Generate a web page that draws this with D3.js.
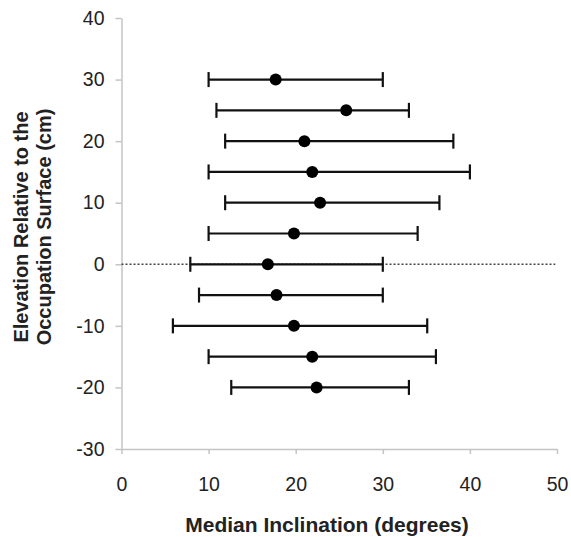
<!DOCTYPE html>
<html>
<head>
<meta charset="utf-8">
<script src="https://cdn.jsdelivr.net/npm/d3@7"></script>
<style>
  html, body { margin: 0; padding: 0; background: #fff; }
  svg { display: block; }
  text { font-family: "Liberation Sans", Arial, sans-serif; }
</style>
</head>
<body>
<svg id="chart" width="571" height="537"></svg>
<script>
// Elevation relative to the occupation surface (cm)
const elevations = [30, 25, 20, 15, 10, 5, 0, -5, -10, -15, -20];
// Median inclination (degrees)
const medians    = [17.7, 25.8, 21.0, 21.9, 22.8, 19.8, 16.8, 17.8, 19.8, 21.9, 22.4];
// Lower / upper extents of the error bars (degrees)
const lowers     = [10.0, 10.9, 11.9, 10.0, 11.9, 10.0, 7.9, 8.9, 5.9, 10.0, 12.6];
const uppers     = [30.0, 33.0, 38.1, 40.0, 36.5, 34.0, 30.0, 30.0, 35.1, 36.1, 33.0];
// Axis ticks
const xTicks = [0, 10, 20, 30, 40, 50];
const yTicks = [40, 30, 20, 10, 0, -10, -20, -30];
const xTitle = "Median Inclination (degrees)";
const yTitleLines = ["Elevation Relative to the", "Occupation Surface (cm)"];

const svg = d3.select("#chart");
const x = d3.scaleLinear().domain([0, 50]).range([121.5, 557]);
const y = d3.scaleLinear().domain([-30, 40]).range([449, 18]);

const axisColor = "#c4c4c4";
const textColor = "#222";
const fmt = d => String(d); // plain hyphen-minus, as in the reference

// X axis
const xAxis = svg.append("g")
  .attr("transform", `translate(0,${y(-30)})`)
  .call(d3.axisBottom(x).tickValues(xTicks).tickFormat(fmt).tickSize(5).tickSizeOuter(0).tickPadding(23));
// Y axis
const yAxis = svg.append("g")
  .attr("transform", `translate(${x(0)},0)`)
  .call(d3.axisLeft(y).tickValues(yTicks).tickFormat(fmt).tickSize(6).tickSizeOuter(0).tickPadding(11));

[xAxis, yAxis].forEach(g => {
  g.select(".domain").attr("stroke", axisColor).attr("stroke-width", 1.5);
  g.selectAll(".tick line").attr("stroke", axisColor).attr("stroke-width", 1.5);
  g.selectAll(".tick text")
    .attr("fill", textColor)
    .style("font-size", "19.5px")
    .style("font-family", "'Liberation Sans', Arial, sans-serif");
});

// Dotted zero line
svg.append("line")
  .attr("x1", x(0)).attr("x2", x(49.8))
  .attr("y1", y(0)).attr("y2", y(0))
  .attr("stroke", "#444").attr("stroke-width", 1.5)
  .attr("stroke-dasharray", "2,2");

const rows = elevations.map((e, i) => ({ e, m: medians[i], lo: lowers[i], hi: uppers[i] }));
const capHalf = 7.5;
const barColor = "#111";
const bars = svg.append("g").selectAll("g").data(rows).join("g");
bars.append("line")
  .attr("x1", d => x(d.lo)).attr("x2", d => x(d.hi))
  .attr("y1", d => y(d.e)).attr("y2", d => y(d.e))
  .attr("stroke", barColor).attr("stroke-width", 2.2);
bars.append("line")
  .attr("x1", d => x(d.lo)).attr("x2", d => x(d.lo))
  .attr("y1", d => y(d.e) - capHalf).attr("y2", d => y(d.e) + capHalf)
  .attr("stroke", barColor).attr("stroke-width", 2.2);
bars.append("line")
  .attr("x1", d => x(d.hi)).attr("x2", d => x(d.hi))
  .attr("y1", d => y(d.e) - capHalf).attr("y2", d => y(d.e) + capHalf)
  .attr("stroke", barColor).attr("stroke-width", 2.2);
bars.append("circle")
  .attr("cx", d => x(d.m)).attr("cy", d => y(d.e))
  .attr("r", 6).attr("fill", "#000");

// Titles
svg.append("text")
  .attr("x", 327).attr("y", 532)
  .attr("text-anchor", "middle")
  .attr("fill", textColor)
  .style("font-size", "21px").style("font-weight", "bold")
  .text(xTitle);

const yt = svg.append("text")
  .attr("transform", `translate(0,227) rotate(-90)`)
  .attr("text-anchor", "middle")
  .attr("fill", textColor)
  .style("font-size", "20px").style("font-weight", "bold");
yt.selectAll("tspan").data(yTitleLines).join("tspan")
  .attr("x", 0).attr("y", (d, i) => 28 + i * 23)
  .text(d => d);
</script>
</body>
</html>
